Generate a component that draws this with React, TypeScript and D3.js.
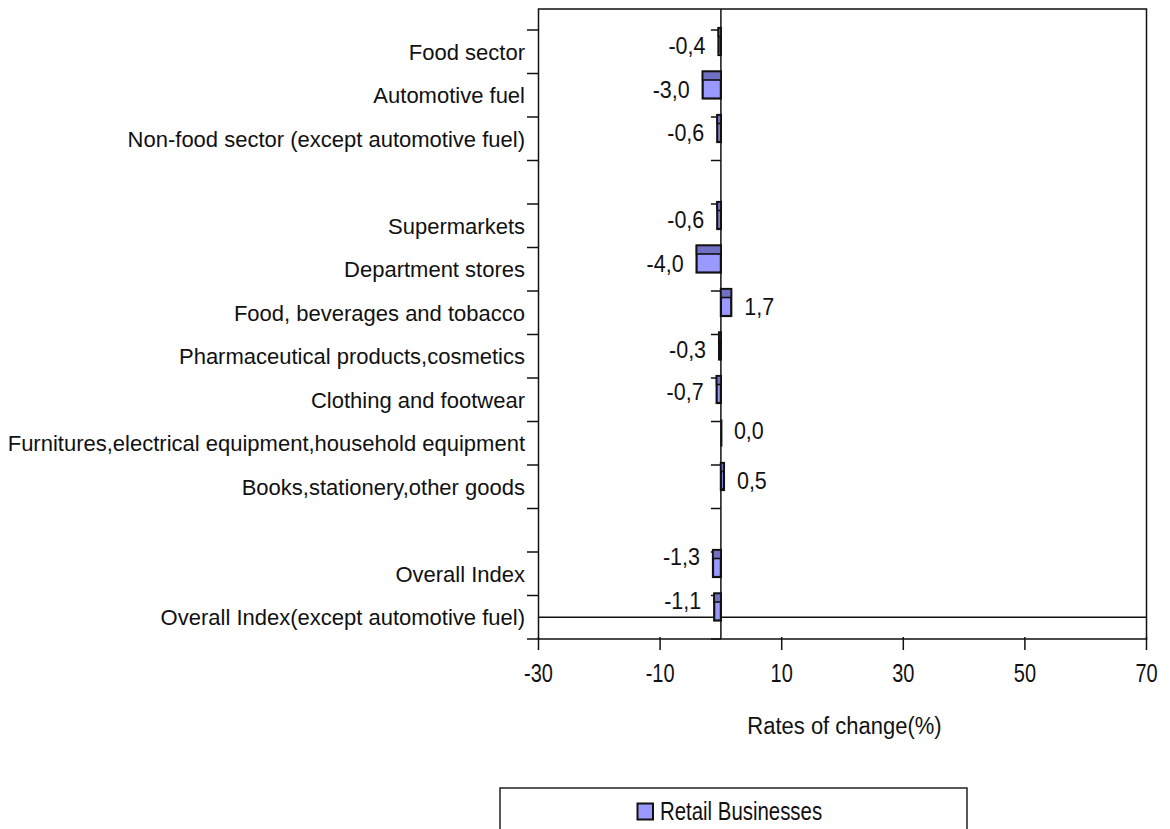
import React from "react";
import * as d3 from "d3";

const categories: string[] = [
  "Food sector",
  "Automotive fuel",
  "Non-food sector (except automotive fuel)",
  "",
  "Supermarkets",
  "Department stores",
  "Food, beverages and tobacco",
  "Pharmaceutical products,cosmetics",
  "Clothing and footwear",
  "Furnitures,electrical equipment,household equipment",
  "Books,stationery,other goods",
  "",
  "Overall Index",
  "Overall Index(except automotive fuel)",
];

const values: (number | null)[] = [
  -0.4, -3.0, -0.6, null, -0.6, -4.0, 1.7, -0.3, -0.7, 0.0, 0.5, null, -1.3, -1.1,
];

// small vertical nudges of the data labels, as placed in the original
const labelNudge: number[] = [0, 0, 0, 0, 0, 0, 0, -1, -2, -7, 0, 0, -11, -11];

const xTicks: number[] = [-30, -10, 10, 30, 50, 70];
const xDomain: [number, number] = [-30, 70];
const seriesName = "Retail Businesses";
const axisTitle = "Rates of change(%)";

const FONT = "'Liberation Sans', Arial, Helvetica, sans-serif";
const LIGHT = "#9999ff";
const DARK = "#7070c4";

export default function App() {
  const W = 1170;
  const H = 829;
  const plotL = 538.5;
  const plotR = 1146.5;
  const plotT = 9;
  const plotB = 639;
  const bandTop = 30;

  const x = d3.scaleLinear().domain(xDomain).range([plotL, plotR]);
  const y = d3
    .scaleBand<number>()
    .domain(categories.map((_, i) => i))
    .range([bandTop, plotB])
    .padding(0);
  const bw = y.bandwidth();
  const x0 = x(0);

  const boundaries = d3.range(categories.length + 1).map((i) => bandTop + i * bw);
  const fmt = (v: number) => v.toFixed(1).replace(".", ",");

  return (
    <svg
      width={W}
      height={H}
      style={{ position: "absolute", left: 0, top: 0, display: "block", background: "#fff" }}
      fontFamily={FONT}
    >
      <rect x={0} y={0} width={W} height={H} fill="#fff" />
      {/* plot border */}
      <rect
        x={plotL}
        y={plotT}
        width={plotR - plotL}
        height={plotB - plotT}
        fill="none"
        stroke="#111"
        strokeWidth={1.5}
      />
      {/* horizontal line through last category */}
      <line
        x1={plotL}
        x2={plotR}
        y1={(y(categories.length - 1) as number) + bw / 2}
        y2={(y(categories.length - 1) as number) + bw / 2}
        stroke="#111"
        strokeWidth={1.5}
      />
      {/* left ticks */}
      {boundaries.map((b, i) => (
        <line key={"lt" + i} x1={plotL - 11.5} x2={plotL} y1={b} y2={b} stroke="#111" strokeWidth={1.5} />
      ))}
      {/* zero line */}
      <line x1={x0} x2={x0} y1={plotT} y2={plotB} stroke="#111" strokeWidth={1.5} />
      {boundaries.map((b, i) => (
        <line key={"zt" + i} x1={x0 - 10} x2={x0} y1={b} y2={b} stroke="#111" strokeWidth={1.5} />
      ))}
      {/* x ticks */}
      {xTicks.map((t) => (
        <g key={"xt" + t}>
          <line x1={x(t)} x2={x(t)} y1={plotB - 2} y2={plotB + 11} stroke="#111" strokeWidth={1.5} />
          <text
            transform={`translate(${x(t)},${plotB + 42.5}) scale(1,1.33)`}
            textAnchor="middle"
            fontSize={20}
            fill="#111"
          >
            {t}
          </text>
        </g>
      ))}
      {/* category labels */}
      {categories.map((c, i) =>
        c ? (
          <text
            key={"cl" + i}
            x={plotL - 13.5}
            y={(y(i) as number) + bw / 2 + 0.358 * 22}
            textAnchor="end"
            fontSize={22}
            fill="#111"
          >
            {c}
          </text>
        ) : null
      )}
      {/* bars */}
      {values.map((v, i) => {
        if (v === null) return null;
        const top = y(i) as number;
        const yb = top - 2;
        const hb = 27;
        const xa = Math.min(x(v), x0);
        const w = Math.abs(x(v) - x0);
        if (w < 0.5) {
          return (
            <line key={"b" + i} x1={x0 + 0.5} x2={x0 + 0.5} y1={yb} y2={yb + hb} stroke="#111" strokeWidth={2} />
          );
        }
        return (
          <g key={"b" + i}>
            <rect x={xa} y={yb} width={w} height={hb} fill={LIGHT} stroke="#111" strokeWidth={2.2} />
            <rect x={xa} y={yb} width={w} height={8.5} fill={DARK} stroke="#111" strokeWidth={1.6} />
          </g>
        );
      })}
      {/* value labels */}
      {values.map((v, i) => {
        if (v === null) return null;
        const top = y(i) as number;
        const neg = v < 0;
        return (
          <text
            key={"vl" + i}
            transform={`translate(${neg ? x(v) - 13 : x(v) + 13},${top + 16 + 8 + labelNudge[i]}) scale(1,1.12)`}
            textAnchor={neg ? "end" : "start"}
            fontSize={21.5}
            fill="#111"
          >
            {fmt(v)}
          </text>
        );
      })}
      {/* axis title */}
      <text
        transform={`translate(${(plotL + plotR) / 2 + 2},734.3) scale(1,1.12)`}
        textAnchor="middle"
        fontSize={22}
        fill="#111"
      >
        {axisTitle}
      </text>
      {/* legend */}
      <rect x={500} y={788} width={467} height={80} fill="#fff" stroke="#222" strokeWidth={1.5} />
      <rect x={637.5} y={803.5} width={15.5} height={16} fill={LIGHT} stroke="#111" strokeWidth={2} />
      <text transform={`translate(660,820) scale(1,1.28)`} fontSize={20.4} fill="#111">
        {seriesName}
      </text>
    </svg>
  );
}
